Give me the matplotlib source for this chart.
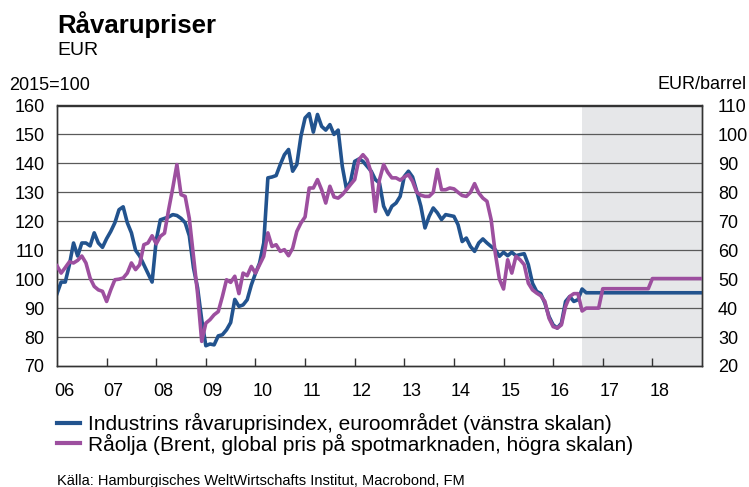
import matplotlib.pyplot as plt
import numpy as np

plt.rcParams['font.family'] = ['Liberation Sans', 'DejaVu Sans']

# Industrins råvaruprisindex (2015=100), månadsvis jan 2006 - aug 2016
industri = [
    95, 99, 99, 105, 112.5, 108, 112.5, 112.5, 111.5, 116, 112.5, 111,
    114, 116.5, 119.5, 124, 125, 119.5, 116, 110, 108, 105, 102, 99,
    113.5, 120.5, 121, 121.5, 122.3, 122, 121, 119.5, 115, 104, 97, 86,
    77, 77.6, 77.3, 80.4, 80.8, 82.5, 85, 93, 90.6, 91.1, 92.9, 98,
    102, 105.6, 112.5, 135, 135.3, 135.8, 139.6, 143, 144.8, 137.3, 139.6, 149.4,
    155.7, 157.2, 150.8, 156.9, 152.8, 151.5, 153.4, 150, 151.5, 139, 131.2, 133.8,
    140.7, 141.5, 140.7, 139, 137.3, 134.4, 133.2, 125.2, 122.3, 125.2, 126.3, 128.6,
    135.5, 137.3, 135.3, 130.4, 125.2, 117.7, 121.7, 124.6, 122.9, 120.6, 122.3, 122,
    121.7, 118.8, 113, 114.2, 111.3, 109.6, 112.5, 113.9, 112.5, 111.3, 110.2, 107.9,
    109.3, 108.1, 109.3, 108.1, 108.5, 108.8, 105, 98.6, 95.8, 95, 91.7, 87.1,
    84.2, 83.1, 84.8, 92.3, 94, 92.3, 92.9, 96.6,
]

# Brent, EUR/fat, månadsvis jan 2006 - aug 2016
olja = [
    54.6, 52.1, 54, 56, 55.6, 56.5, 58, 55.6, 50.4, 47.5, 46.3, 45.8,
    42.3, 46.3, 49.8, 50, 50.4, 52.1, 55.6, 53.3, 55, 61.9, 62.5, 65,
    62.2, 64.8, 65.9, 74, 81.5, 89.6, 79.2, 78.6, 71, 58, 45, 28.5,
    34.8, 36, 37.7, 38.8, 44, 49.8, 48.9, 51, 45, 52.1, 51.2, 54.4,
    52.1, 55, 57.9, 66, 61.3, 61.9, 59.6, 60.2, 58.1, 60.7, 66.5, 69.4,
    71.5, 81.5, 81.5, 84.4, 80.9, 76.3, 82.1, 78.4, 78, 79.2, 80.9, 82.7,
    84.4, 91.3, 93, 91.3, 86.7, 73.4, 84.4, 89.6, 86.9, 85, 85, 84.2,
    85.3, 86.1, 83.8, 80, 79, 78.6, 78.6, 80, 87.9, 80.9, 80.9, 81.5,
    81.2, 80, 78.9, 78.6, 80, 83, 79.8, 78, 76.9, 70.6, 59, 50,
    46.6, 56.7, 52.1, 57.9, 56.7, 55, 48.6, 46.3, 45.2, 44.3, 42.3, 36.5,
    33.6, 33.1, 34.2, 40.6, 44, 45, 45, 39,
]

# prognos
industri_prog_datum = ["2016-09", "2019-01"]
industri_prog = [95.3, 95.3]
olja_prog_datum = ["2016-09", "2016-12", "2017-01", "2017-12", "2018-01", "2019-01"]
olja_prog = [40, 40, 46.7, 46.7, 50.2, 50.2]

prognos_start = "2016-08"
ar_etiketter = ["06", "07", "08", "09", "10", "11", "12", "13", "14", "15", "16", "17", "18"]


def aar(s):
    y, m = s.split("-")
    return int(y) + (int(m) - 1) / 12


BLA = '#22538e'
LILA = '#9d4f9f'

x_hist = 2006 + np.arange(len(industri)) / 12
x_ind = list(x_hist) + [aar(d) for d in industri_prog_datum]
x_olja = list(x_hist) + [aar(d) for d in olja_prog_datum]

fig = plt.figure(figsize=(7.49, 4.87), dpi=100)
ax = fig.add_axes([57 / 749, 1 - 366 / 487, 645 / 749, 260.5 / 487])
ax2 = ax.twinx()

ax.axvspan(aar(prognos_start), 2019, color='#e6e7e9', lw=0, zorder=0)
for v in range(80, 160, 10):
    ax.axhline(v, color='#5a5a5a', lw=0.9, zorder=1)

ax.plot(x_ind, industri + industri_prog, color=BLA, lw=2.6, zorder=3,
        solid_joinstyle='round')
ax2.plot(x_olja, olja + olja_prog, color=LILA, lw=2.6, zorder=3,
         solid_joinstyle='round')

ax.set_xlim(2006, 2019)
ax.set_ylim(70, 160)
ax2.set_ylim(20, 110)

ax.set_yticks(range(70, 161, 10))
ax2.set_yticks(range(20, 111, 10))
ax.tick_params(axis='y', length=0, pad=9, labelsize=13)
ax2.tick_params(axis='y', length=0, pad=11.5, labelsize=13)

ax.set_xticks(range(2007, 2019))
ax.set_xticklabels([])
ax.set_xticks([2006.14 + i for i in range(len(ar_etiketter))], minor=True)
ax.set_xticklabels(ar_etiketter, minor=True)
ax.tick_params(axis='x', which='major', direction='in', length=6, width=1, color='#333333')
ax.tick_params(axis='x', which='minor', length=0, pad=12, labelsize=13)

for a in (ax, ax2):
    for s in a.spines.values():
        s.set_color('#333333')
        s.set_linewidth(1)

fig.text(57 / 749, 1 - 33 / 487, "Råvarupriser", fontsize=18.5, fontweight='bold', va='baseline')
fig.text(57 / 749, 1 - 55 / 487, "EUR", fontsize=14, va='baseline')
fig.text(9 / 749, 1 - 90 / 487, "2015=100", fontsize=13, va='baseline')
fig.text(747 / 749, 1 - 89 / 487, "EUR/barrel", fontsize=13, va='baseline', ha='right')

h1, = ax.plot([], [], color=BLA, lw=3)
h2, = ax.plot([], [], color=LILA, lw=3)
fig.legend([h1, h2],
           ["Industrins råvaruprisindex, euroområdet (vänstra skalan)",
            "Råolja (Brent, global pris på spotmarknaden, högra skalan)"],
           loc='upper left', bbox_to_anchor=(57 / 749, 1 - 413 / 487),
           frameon=False, borderpad=0, borderaxespad=0, handlelength=1.1,
           handletextpad=0.38, labelspacing=-0.02, fontsize=15)

fig.text(57 / 749, 1 - 485 / 487, "Källa: Hamburgisches WeltWirtschafts Institut, Macrobond, FM",
         fontsize=10.5, va='baseline')

fig.savefig("out.png", dpi=100)
